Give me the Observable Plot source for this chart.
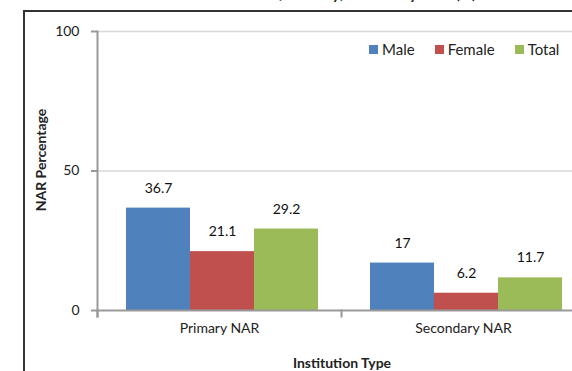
<!DOCTYPE html>
<html><head><meta charset="utf-8">
<script src="https://cdn.jsdelivr.net/npm/d3@7"></script>
<script src="https://cdn.jsdelivr.net/npm/@observablehq/plot@0.6"></script>
<style>
body{margin:0;background:#fff;}
#wrap{position:relative;width:572px;height:371px;overflow:hidden;font-family:Lato,"Open Sans",sans-serif;color:#222;}
#title{position:absolute;left:0;width:600px;text-align:center;top:-15px;font-size:16px;font-weight:bold;font-style:italic;line-height:16px;white-space:nowrap;}
#frame{position:absolute;left:23px;top:10px;width:600px;height:400px;border-left:2px solid #333;border-top:2px solid #333;}
#chart{position:absolute;left:0;top:0;}
#legend{position:absolute;left:369px;top:41px;display:flex;gap:20px;font-size:15px;line-height:16px;}
#legend .item{display:flex;align-items:center;gap:4px;}
#legend .sw{width:9px;height:9px;display:inline-block;}
#ylabel{position:absolute;left:40px;top:160px;transform:translate(-50%,-50%) rotate(-90deg);font-size:14px;font-weight:bold;white-space:nowrap;}
#xlabel{position:absolute;left:342px;top:354px;transform:translateX(-50%);font-size:14px;font-weight:bold;white-space:nowrap;}
</style></head><body>
<div id="wrap">
  <div id="title">Net Attendance Ratio of Primary, Secondary NAR (%)</div>
  <div id="frame"></div>
  <div id="chart"></div>
  <div id="legend"></div>
  <div id="ylabel">NAR Percentage</div>
  <div id="xlabel">Institution Type</div>
</div>
<script>
const categories = ["Primary NAR", "Secondary NAR"];
const series = ["Male", "Female", "Total"];
const male = [36.7, 17];
const female = [21.1, 6.2];
const total = [29.2, 11.7];
const yTicks = [0, 50, 100];
const colors = ["#4f81bd", "#c0504d", "#9bbb59"];

const values = [male, female, total];
const rows = [];
categories.forEach((c, i) => series.forEach((s, j) => rows.push({category: c, series: s, value: values[j][i]})));

const chart = Plot.plot({
  width: 572, height: 371,
  marginLeft: 97, marginRight: -13, marginTop: 31, marginBottom: 61,
  style: {background: "transparent", fontFamily: "Lato, 'Open Sans', sans-serif", fontSize: "14px", color: "#333", overflow: "visible"},
  fx: {domain: categories, padding: 0, label: null, axis: null},
  x: {domain: series, paddingInner: 0, paddingOuter: 0.4, align: 0.56, axis: null},
  y: {domain: [0, 100], axis: null},
  color: {domain: series, range: colors},
  marks: [
    Plot.gridY([50, 100], {stroke: "#d9d9d9", strokeOpacity: 1, strokeWidth: 1.5}),
    Plot.barY(rows, {fx: "category", x: "series", y: "value", fill: "series"}),
    Plot.text(rows, {fx: "category", x: "series", y: "value", text: d => String(d.value), dy: -20, fill: "#111", fontSize: 14}),
    Plot.ruleY([0], {stroke: "#999", strokeWidth: 2}),
    Plot.frame({anchor: "left", stroke: "#999", strokeWidth: 2, insetBottom: -6, facetAnchor: "left"}),
    Plot.frame({anchor: "left", stroke: "#999", strokeWidth: 2, insetTop: 279, insetBottom: -6}),
    Plot.axisY({ticks: yTicks, tickSize: 6, tickPadding: 12, stroke: "#999", strokeWidth: 2, fill: "#222", label: null, fontSize: 14}),
    Plot.axisFx({anchor: "bottom", tickSize: 0, tickPadding: 13, label: null, fontSize: 14, fill: "#222"})
  ]
});
document.getElementById("chart").appendChild(chart);

const legend = document.getElementById("legend");
series.forEach((s, i) => {
  const item = document.createElement("div");
  item.className = "item";
  item.innerHTML = `<span class="sw" style="background:${colors[i]}"></span><span>${s}</span>`;
  legend.appendChild(item);
});
</script>
</body></html>
